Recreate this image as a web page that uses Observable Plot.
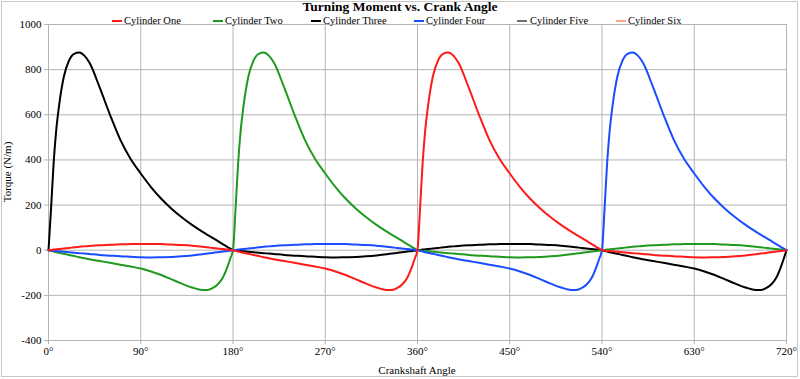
<!DOCTYPE html>
<html>
<head>
<meta charset="utf-8">
<script src="https://cdn.jsdelivr.net/npm/d3@7"></script>
<script src="https://cdn.jsdelivr.net/npm/@observablehq/plot@0.6"></script>
<style>
  body { margin: 0; background: #fff; }
  #wrap { position: relative; width: 800px; height: 379px; font-family: "Liberation Serif", "DejaVu Serif", serif; color: #000; }
  #border { position: absolute; left: 1px; top: 1px; width: 795px; height: 374px; border: 1px solid #c8c8c8; pointer-events: none; }
  #title { position: absolute; left: 0; width: 800px; top: 0px; text-align: center; font-weight: bold; font-size: 13.5px; line-height: 1.107; }
  #legend { position: absolute; top: 15px; left: 0; height: 12px; font-size: 10.5px; line-height: 1.107; }
  .item { position: absolute; top: 0; white-space: nowrap; }
  .sw { position: absolute; top: 5px; width: 10px; height: 2px; }
  #ylab { position: absolute; left: 7px; top: 172px; transform: translate(-50%, -50%) rotate(-90deg); font-size: 11px; white-space: nowrap; }
  #xlab { position: absolute; left: 417px; top: 370px; transform: translate(-50%, -50%); font-size: 11px; white-space: nowrap; }
  #chart svg { position: absolute; left: 0; top: 0; }
  #chart svg, #chart svg text { font-family: "Liberation Serif", serif !important; font-size: 11px; }
</style>
</head>
<body>
<div id="wrap">
  <div id="chart"></div>
  <div id="title">Turning Moment vs. Crank Angle</div>
  <div id="legend"></div>
  <div id="ylab">Torque (N/m)</div>
  <div id="xlab">Crankshaft Angle</div>
  <div id="border"></div>
</div>
<script>
// Angle offsets within one 180° stroke
const strokeOffsets = [0,2.5,5,7.5,10,15,20,25,30,35,40,50,60,70,80,90,100,110,120,130,140,150,155,160,165,170,175,177.5,180];
// Torque shapes (N/m)
const powerStroke = [0,185,385,530,630,770,840,870,876,862,830,720,600,490,405,340,280,228,184,146,112,82,68,55,41,27,13,7,0];
const compressionStroke = [0,-3,-6,-9,-11,-16,-21,-26,-31,-36,-40,-48,-56,-64,-72,-81,-94,-110,-129,-148,-165,-176,-176,-168,-152,-122,-68,-35,0];
const smallPositiveStroke = [0,1,3,4,5,8,10,13,15,17,19,22,24,26,27,28,28,27,25,23,20,15,13,10,8,5,3,1,0];
const smallNegativeStroke = [0,-1,-3,-4,-5,-7,-9,-11,-13,-15,-17,-21,-24,-27,-29,-31,-32,-31,-30,-27,-23,-18,-15,-12,-9,-6,-3,-2,0];

const seriesNames = ["Cylinder One","Cylinder Two","Cylinder Three","Cylinder Four","Cylinder Five","Cylinder Six"];
const seriesColors = ["#ff1a1a","#1f9a1f","#000000","#1a4dff","#707070","#ffa585"];
// Stroke sequence of each cylinder over 0–720°
const cylinderOne = [smallPositiveStroke, compressionStroke, powerStroke, smallNegativeStroke];
const cylinderTwo = [compressionStroke, powerStroke, smallNegativeStroke, smallPositiveStroke];
const cylinderThree = [powerStroke, smallNegativeStroke, smallPositiveStroke, compressionStroke];
const cylinderFour = [smallNegativeStroke, smallPositiveStroke, compressionStroke, powerStroke];

const xTicks = [0,90,180,270,360,450,540,630,720];
const yTicks = [-400,-200,0,200,400,600,800,1000];

function build(name, strokes) {
  const rows = [];
  strokes.forEach((arr, k) => {
    arr.forEach((v, i) => rows.push({cyl: name, angle: k * 180 + strokeOffsets[i], torque: v}));
  });
  return rows;
}
const drawOrder = [["Cylinder Three", cylinderThree], ["Cylinder Two", cylinderTwo], ["Cylinder Four", cylinderFour], ["Cylinder One", cylinderOne]];
const data = drawOrder.flatMap(([n, s]) => build(n, s));

const grid = "#b4b4b4";
const chart = Plot.plot({
  width: 800,
  height: 379,
  marginLeft: 48,
  marginRight: 14,
  marginTop: 24,
  marginBottom: 39,
  style: {fontFamily: "'Liberation Serif', serif", fontSize: "11px", background: "transparent", color: "#000"},
  x: {domain: [0, 720], label: null},
  y: {domain: [-400, 1000], label: null},
  color: {domain: seriesNames, range: seriesColors},
  marks: [
    Plot.gridX(xTicks, {stroke: grid, strokeOpacity: 1}),
    Plot.gridY(yTicks, {stroke: grid, strokeOpacity: 1}),
    Plot.frame({stroke: grid}),
    Plot.axisY(yTicks, {tickSize: 4, tickPadding: 3, stroke: grid, fill: "#000", tickFormat: d => String(d), label: null}),
    Plot.axisX(xTicks, {tickSize: 4, tickPadding: 3, stroke: grid, fill: "#000", tickFormat: d => d + "°", label: null}),
    Plot.line(data, {x: "angle", y: "torque", z: "cyl", stroke: "cyl", strokeWidth: 2, curve: "monotone-x"})
  ]
});
document.getElementById("chart").appendChild(chart);

// Legend
const legendX = [112, 213, 311, 414, 517, 616];
const legend = document.getElementById("legend");
seriesNames.forEach((n, i) => {
  const it = document.createElement("div");
  it.className = "item";
  it.style.left = legendX[i] + "px";
  it.innerHTML = `<span class="sw" style="left:0;background:${seriesColors[i]}"></span><span style="margin-left:${i === 4 ? 13 : 12}px">${n}</span>`;
  legend.appendChild(it);
});
</script>
</body>
</html>
